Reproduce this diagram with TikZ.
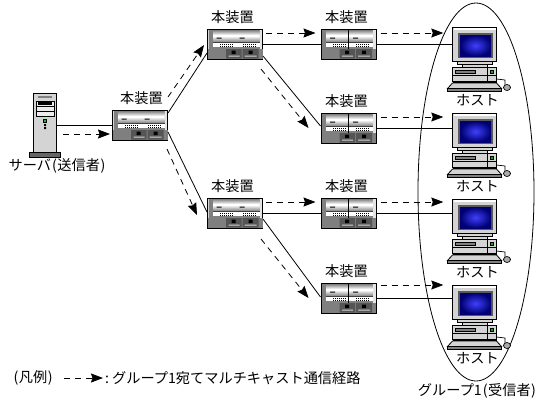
\documentclass[tikz,border=0pt]{standalone}
\usepackage{fontspec}
\setmainfont{Noto Sans CJK JP}
\usetikzlibrary{arrows.meta,positioning,shapes.geometric}
\definecolor{caseg}{HTML}{D4D4D4}
\definecolor{paneld}{HTML}{555555}
\definecolor{panelm}{HTML}{7F7F7F}
\newcommand{\lp}{\kern1pt(\kern.5pt}
\newcommand{\rp}{\kern.5pt)\kern1pt}
\tikzset{
  lbl/.style={inner sep=0pt,font=\fontsize{14.2}{14.2}\selectfont},
  devbox/.style={draw,line width=1pt,fill=caseg,minimum width=55pt,minimum height=30pt,inner sep=0pt},
  hostbox/.style={minimum width=44pt,minimum height=34pt,inner sep=0pt},
  srvbox/.style={draw,line width=1pt,fill=caseg,minimum width=23pt,minimum height=59pt,inner sep=0pt},
  link/.style={line width=.8pt},
  flow/.style={line width=.8pt,dash pattern=on 6pt off 5pt,-{Stealth[inset=1.5pt,length=12pt,width=9pt]}},
  devpic/.pic={
    \begin{scope}[shift={(-27.5,-15)}]
      \fill[panelm] (0.5,20) rectangle (55,29.5);
      \fill[paneld] (18.5,20) rectangle (34,29.5) (35,20) rectangle (51,29.5);
      \fill (24,21.5) rectangle (28,25) (41,21.5) rectangle (45,25);
      \fill[caseg] (21,26.5) rectangle (32,27.5) (37,26.5) rectangle (49,27.5);
      \shade[top color=gray,bottom color=white] (5,1) rectangle (52,6);
      \shade[top color=white,bottom color=gray] (5,7) rectangle (52,13);
      \fill[white] (5,14) rectangle (52,18);
      \fill[gray] (5,18) rectangle (52,20);
      \fill[black!75] (5,13) rectangle (52,14);
      \fill[gray] (1,1) rectangle (5,20);
      \fill[white!80!gray] (52,1) rectangle (54.5,20);
      \fill (9,8.5) rectangle (14,9.5) (32,8.5) rectangle (37,9.5);
      \foreach \dx in {12,14,...,24,35,37,...,47} {
        \fill (\dx,15) rectangle ++(1,1);
        \fill (\dx,17) rectangle ++(1,.8);
      }
    \end{scope}
  },
  srvpic/.pic={
    \begin{scope}[shift={(-45,-123)}]
      \fill[gray] (38,96) rectangle (52,98);
      \draw[fill=white!85!gray,line width=.8pt] (36,101) rectangle (54,116);
      \draw[line width=.8pt] (36,106) -- (54,106) (36,111) -- (54,111);
      \fill (38,102) rectangle (52,105);
      \draw[fill=green!80!black,line width=.8pt] (43.5,119) rectangle (46.5,122);
      \fill (44,124) rectangle (46,126) (44,127) rectangle (46,129);
      \draw[fill=black!60,line width=1pt] (29.5,152.5) rectangle (60.5,157);
    \end{scope}
  },
  hostpic/.pic={
    \begin{scope}[shift={(-474.5,-44)}]
      \draw[fill=caseg,line width=1pt] (462,64) rectangle (487,67);
      \draw[fill=caseg,line width=1pt] (457,60) rectangle (492,64);
      \draw[fill=caseg,line width=1pt] (452.5,27) rectangle (496.5,61);
      \fill[white] (453.5,28) rectangle (495.5,30);
      \fill[black!65] (458,33) rectangle (493,57.5);
      \shade[inner color=blue!75!white,outer color=blue!45!black] (460,35) rectangle (491,56);
      \draw[fill=caseg,line width=1pt] (452.5,67.5) rectangle (496.5,81);
      \draw[line width=.8pt] (452.5,75.5) -- (496.5,75.5) (487.5,67.5) -- (487.5,81);
      \draw[fill=gray,line width=.8pt] (455.5,70.5) rectangle (475.5,73);
      \draw[fill=green!70!black,line width=.6pt] (490,70.5) rectangle (493.5,73);
      \fill (452.5,81) rectangle (496.5,83);
      \draw[fill=caseg,line width=.8pt] (452.5,83) -- (447.5,88.5) -- (501.5,88.5) -- (496.5,83) -- cycle;
      \draw[fill=gray,line width=.8pt] (447.5,88.5) rectangle (501.5,91);
      \draw[line width=.7pt] (496.5,79) -- (505,80) -- (505,85);
      \draw[fill=caseg!80!black,line width=.7pt] (507,87.5) ellipse [x radius=3.5,y radius=3];
    \end{scope}
  }
}

\begin{document}
\begin{tikzpicture}[x=1pt,y=-1pt]
  \useasboundingbox (0,0) rectangle (547,408);
  \node[draw,line width=.8pt,ellipse,inner sep=0pt,minimum width=116pt,minimum height=378pt] (grpEll) at (476,192) {};
  % 装置
  \foreach \nm/\px/\py/\lx in {devA/140/125/1.5,devB/235/44/-2.5,devE/235/213/-2.5,devD/348.5/44/-2,devC/348.5/128/-2,devF/348.5/213/-2,devG/348.5/298/-2} {
    \node[devbox] (\nm) at (\px,\py) {};
    \pic at (\nm) {devpic};
    \node[lbl,above=5pt of \nm,xshift=\lx pt] (lab\nm) {本装置};
  }
  % 中央の仕切り
  \foreach \nm in {devD,devC,devF,devG} {
    \draw[line width=.7pt] ([yshift=14pt]\nm.center) -- ([yshift=-5pt]\nm.center);
  }
  % ホスト
  \foreach \nm/\py in {hostA/44,hostB/130,hostC/216,hostD/302} {
    \node[hostbox] (\nm) at (474.5,\py) {};
    \pic at (\nm) {hostpic};
    \node[lbl,below=33pt of \nm,xshift=3pt] (lab\nm) {ホスト};
  }
  % サーバ
  \node[srvbox] (srv) at (45,123) {};
  \pic at (srv) {srvpic};
  \node[lbl] (labSrv) at (57.5,166) {サーバ\lp 送信者\rp};
  % 実線
  \draw[link] ([yshift=-2pt]srv.east) -- ([yshift=0pt]devA.west);
  \draw[link] ([yshift=12pt]devA.east) -- ([yshift=-9pt]devB.west);
  \draw[link] ([yshift=-7pt]devA.east) -- ([yshift=1pt]devE.west);
  \draw[link] ([yshift=-12pt]devB.east) -- ([yshift=2pt]devC.west);
  \draw[link] ([yshift=-6pt]devE.east) -- ([yshift=1pt]devG.west);
  \draw[link] (devB) -- (devD);
  \draw[link] (devE) -- (devF);
  \draw[link] (devD) -- (devD -| hostA.west);
  \draw[link] (devC) -- (devC -| hostB.west);
  \draw[link] (devF) -- (devF -| hostC.west);
  \draw[link] (devG) -- (devG -| hostD.west);
  % 破線
  \draw[flow] ([xshift=6pt,yshift=-11pt]srv.east) -- ([xshift=-2pt,yshift=-9pt]devA.west);
  \draw[flow] ([yshift=28pt]devA.east) -- ([xshift=-3pt,yshift=-1pt]devB.west);
  \draw[flow] ([xshift=-1pt,yshift=-24pt]devA.east) -- ([xshift=-10pt,yshift=-2pt]devE.west);
  \draw[flow] ([xshift=-2pt,yshift=-25pt]devB.east) -- ([xshift=-12pt]devC.west);
  \draw[flow] ([xshift=-2pt,yshift=-26pt]devE.east) -- ([xshift=-12pt]devG.west);
  \draw[flow] ([xshift=3pt,yshift=11pt]devB.east) -- ([xshift=-5pt,yshift=11pt]devD.west);
  \draw[flow] ([xshift=3pt,yshift=11pt]devE.east) -- ([xshift=-5pt,yshift=11pt]devF.west);
  \draw[flow] ([xshift=4pt,yshift=11pt]devD.east) -- ([xshift=-9pt,yshift=11pt]devD.east -| hostA.west);
  \draw[flow] ([xshift=4pt,yshift=11pt]devC.east) -- ([xshift=-9pt,yshift=11pt]devC.east -| hostB.west);
  \draw[flow] ([xshift=4pt,yshift=11pt]devF.east) -- ([xshift=-9pt,yshift=11pt]devF.east -| hostC.west);
  \draw[flow] ([xshift=4pt,yshift=13pt]devG.east) -- ([xshift=-9pt,yshift=13pt]devG.east -| hostD.west);
  % 凡例
  \node[lbl,anchor=west] (legHead) at (12.5,378) {\lp 凡例\rp};
  \coordinate (legS) at (64,378);
  \coordinate (legE) at (103,378);
  \draw[flow] (legS) -- (legE);
  \node[lbl,anchor=west] (legText) at (105,378) {:\kern3pt グループ1宛てマルチキャスト通信経路};
  \node[lbl] (labGrp) at (477.5,391) {グループ1\lp 受信者\rp};
\end{tikzpicture}
\end{document}
